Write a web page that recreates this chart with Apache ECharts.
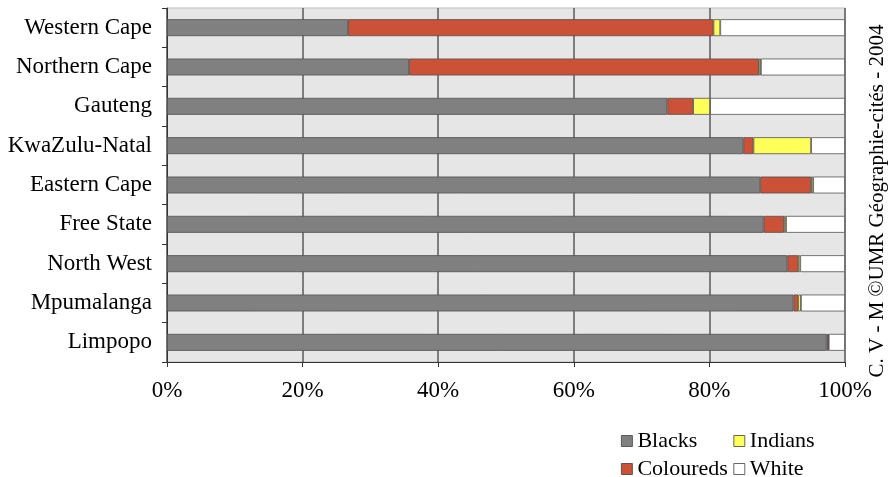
<!DOCTYPE html>
<html>
<head>
<meta charset="utf-8">
<script src="https://cdn.jsdelivr.net/npm/echarts@6/dist/echarts.min.js"></script>
<style>
html,body{margin:0;padding:0;background:#fff;}
#chart{width:888px;height:477px;}
</style>
</head>
<body>
<div id="chart"></div>
<script>
const provinces = ['Western Cape','Northern Cape','Gauteng','KwaZulu-Natal','Eastern Cape','Free State','North West','Mpumalanga','Limpopo'];
const blacks    = [26.7, 35.7, 73.8, 85.0, 87.5, 88.0, 91.5, 92.4, 97.3];
const coloureds = [53.9, 51.6, 3.8, 1.5, 7.5, 3.0, 1.6, 0.7, 0.2];
const indians   = [1.0, 0.3, 2.5, 8.5, 0.3, 0.3, 0.3, 0.4, 0.1];
const white     = [18.4, 12.4, 19.9, 5.0, 4.7, 8.7, 6.6, 6.5, 2.4];
const xTicks    = [0, 20, 40, 60, 80, 100];
const credit    = 'C. V - M ©UMR Géographie-cités - 2004';

const FONT = '"Liberation Serif", "Times New Roman", serif';
const chart = echarts.init(document.getElementById('chart'), null, {renderer:'canvas'});

function mk(name, data, color){
  return {
    name, type:'bar', stack:'total', data, barWidth:'43%',
    itemStyle:{color, borderColor:'#505050', borderWidth:0.8},
    emphasis:{disabled:true}
  };
}

chart.setOption({
  animation:false,
  grid:{left:167, right:43, top:8, bottom:115, show:true,
        backgroundColor:'#e6e6e6', borderColor:'#bdbdbd', borderWidth:1},
  xAxis:{
    type:'value', min:xTicks[0], max:xTicks[xTicks.length-1], interval:20,
    axisLine:{show:true, lineStyle:{color:'#333', width:1}},
    axisTick:{show:true, length:5, lineStyle:{color:'#333'}},
    splitLine:{show:true, lineStyle:{color:'#5a5a5a', width:1.5}},
    axisLabel:{formatter:'{value}%', color:'#000', fontFamily:FONT, fontSize:23, margin:17}
  },
  yAxis:{
    type:'category', data:provinces, inverse:true,
    axisLine:{show:true, lineStyle:{color:'#333', width:1}},
    axisTick:{show:true, length:5, lineStyle:{color:'#333'}},
    axisLabel:{color:'#000', fontFamily:FONT, fontSize:23, margin:15}
  },
  legend:{
    left:616, top:424, width:240, orient:'horizontal',
    data:['Blacks','Indians','Coloureds','White'],
    itemWidth:11, itemHeight:11, itemGap:4, itemTextGap:8,
    icon:'rect',
    itemStyle:{borderColor:'#404040', borderWidth:0.8},
    textStyle:{color:'#000', fontFamily:FONT, fontSize:22, width:92, lineHeight:24}
  },
  series:[
    mk('Blacks', blacks, '#808080'),
    mk('Coloureds', coloureds, '#cb5137'),
    mk('Indians', indians, '#ffff5a'),
    mk('White', white, '#ffffff')
  ],
  graphic:[{
    type:'text', x:877, y:201, rotation:Math.PI/2,
    style:{text:credit, fill:'#000', font:'21px ' + FONT, textAlign:'center', textVerticalAlign:'middle'}
  }]
});
</script>
</body>
</html>
